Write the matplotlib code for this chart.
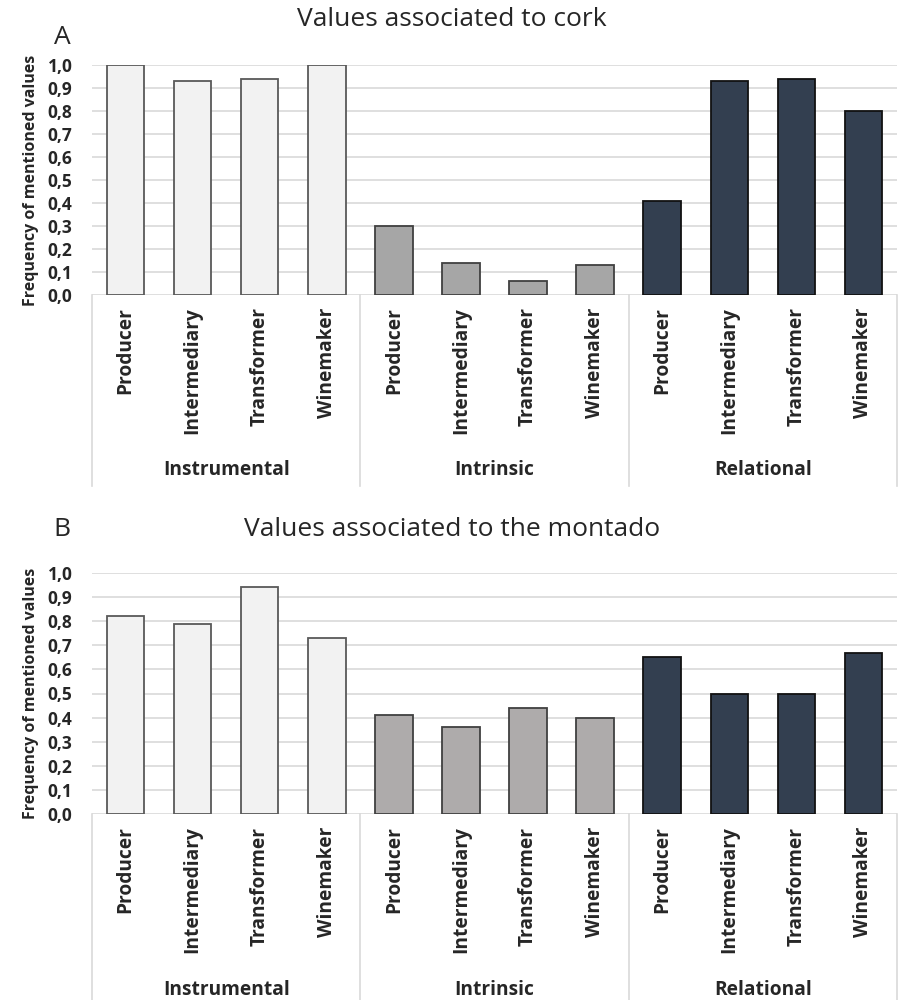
import matplotlib
matplotlib.use("Agg")
import matplotlib.pyplot as plt

plt.rcParams["font.family"] = ["Open Sans", "DejaVu Sans"]

ACTORS = ["Producer", "Intermediary", "Transformer", "Winemaker"]
GROUPS = ["Instrumental", "Intrinsic", "Relational"]

CORK_INSTRUMENTAL = [1.00, 0.93, 0.94, 1.00]
CORK_INTRINSIC = [0.30, 0.14, 0.06, 0.13]
CORK_RELATIONAL = [0.41, 0.93, 0.94, 0.80]

MONTADO_INSTRUMENTAL = [0.82, 0.79, 0.94, 0.73]
MONTADO_INTRINSIC = [0.41, 0.36, 0.44, 0.40]
MONTADO_RELATIONAL = [0.65, 0.50, 0.50, 0.67]

YTICKS = [0.0, 0.1, 0.2, 0.3, 0.4, 0.5, 0.6, 0.7, 0.8, 0.9, 1.0]
GRID = "#d9d9d9"
TXT = "#262626"


def panel(fig, rect, series, colors, title, letter, title_y, letter_y, group_y, line_bottom):
    ax = fig.add_axes(rect)
    x = 0
    for vals, (fc, ec) in zip(series, colors):
        xs = list(range(x, x + len(vals)))
        ax.bar(xs, vals, width=0.56, color=fc, edgecolor=ec, linewidth=1.3, zorder=3)
        x += len(vals)
    ax.set_xlim(-0.5, x - 0.5)
    ax.set_ylim(0, 1.0)
    ax.set_yticks(YTICKS)
    ax.set_yticklabels([f"{t:.1f}".replace(".", ",") for t in YTICKS],
                       fontsize=12.5, fontweight="bold", color=TXT)
    ax.tick_params(axis="y", length=0, pad=14)
    ax.set_xticks(range(x))
    ax.set_xticklabels(ACTORS * len(series), rotation=90, fontsize=13.8,
                       fontweight="bold", color=TXT, va="top")
    ax.tick_params(axis="x", length=0, pad=9)
    for s in ax.spines.values():
        s.set_visible(False)
    ax.yaxis.grid(True, color=GRID, linewidth=1.2, zorder=0)
    ax.set_axisbelow(True)
    ax.set_ylabel("Frequency of mentioned values", fontsize=11.5, fontweight="bold",
                  color=TXT, labelpad=6)

    # category box below the axis
    tr = ax.get_xaxis_transform()
    for b in [-0.5, 3.5, 7.5, 11.5]:
        ax.plot([b, b], [0, line_bottom], transform=tr, color=GRID, lw=1.2, clip_on=False)
    for i, g in enumerate(GROUPS):
        ax.text(4 * i + 1.5, group_y, g, transform=tr, ha="center", va="center",
                fontsize=13.8, fontweight="bold", color=TXT)

    fig.text(0.503, title_y, title, ha="center", va="center", fontsize=19, color=TXT)
    fig.text(0.069, letter_y, letter, ha="center", va="center", fontsize=19, color=TXT)
    return ax


fig = plt.figure(figsize=(8.99, 10.0), dpi=100)

panel(fig, [0.1023, 0.705, 0.8955, 0.230],
      [CORK_INSTRUMENTAL, CORK_INTRINSIC, CORK_RELATIONAL],
      [("#f2f2f2", "#595959"), ("#a6a6a6", "#404040"), ("#333f50", "#111111")],
      "Values associated to cork", "A", 0.980, 0.962, -0.76, -0.83)

panel(fig, [0.1023, 0.186, 0.8955, 0.241],
      [MONTADO_INSTRUMENTAL, MONTADO_INTRINSIC, MONTADO_RELATIONAL],
      [("#f2f2f2", "#595959"), ("#aeabab", "#404040"), ("#333f50", "#111111")],
      "Values associated to the montado", "B", 0.471, 0.471, -0.73, -0.78)

fig.savefig("out.png", dpi=100)
